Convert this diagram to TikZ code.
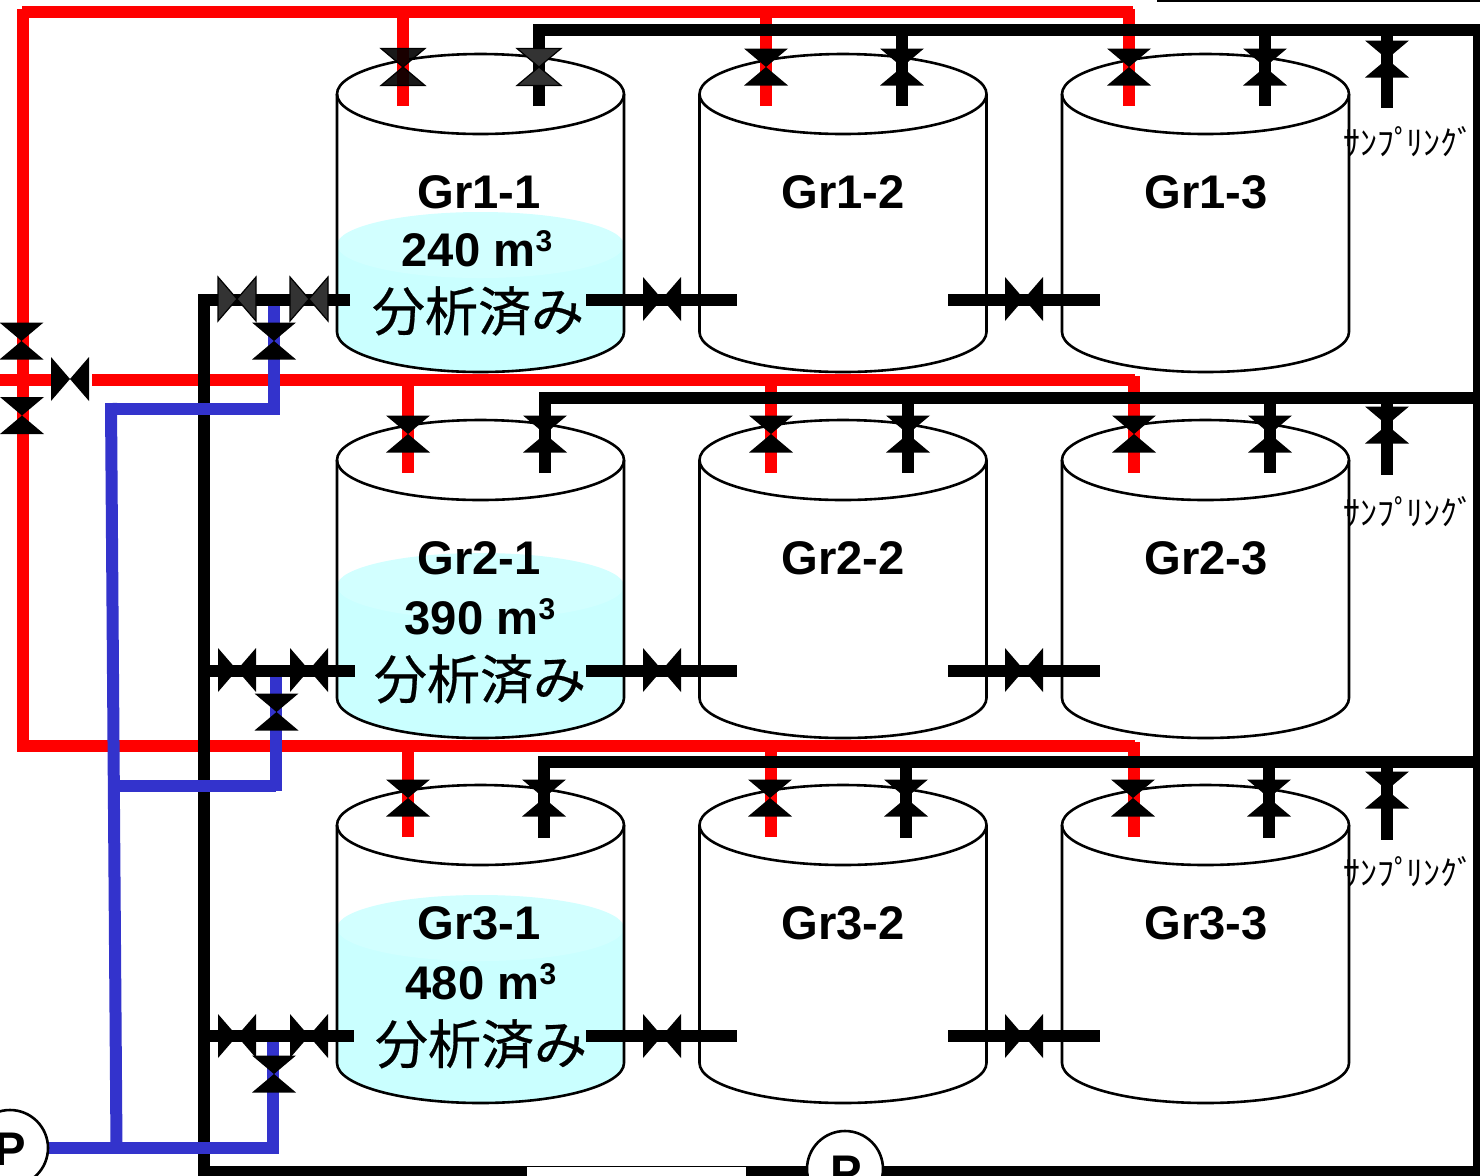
\documentclass[tikz,border=0pt]{standalone}
\usepackage{fontspec}
\setmainfont{Liberation Sans}
\newfontfamily\jpfont[FakeBold=0.5]{Noto Sans CJK JP}
\newfontfamily\jpthin{Noto Sans CJK JP}
\definecolor{pipered}{HTML}{FF0000}
\definecolor{pipeblue}{HTML}{3333CC}
\definecolor{liquid}{HTML}{CAFFFF}
\definecolor{liquidtop}{HTML}{D2FFFF}
\definecolor{valvegrey}{HTML}{333333}
\tikzset{
  tankline/.style={draw=black,line width=1.3pt},
  redpipe/.style={draw=pipered,line width=6pt},
  blackpipe/.style={draw=black,line width=6pt},
  bluepipe/.style={draw=pipeblue,line width=6pt},
  valveblack/.style={fill=black,draw=none},
  valvedark/.style={fill=valvegrey,draw=black,line width=.6pt},
  valvedarkred/.style={fill=black,fill opacity=.9,draw=black,line width=.6pt},
  tanklabel/.style={inner sep=0pt,font=\fontsize{23.6}{23.6}\selectfont\bfseries},
  jplabel/.style={inner sep=0pt,font=\fontsize{26.5}{26.5}\selectfont\jpfont},
  samplelabel/.style={inner sep=0pt,font=\fontsize{17}{17}\selectfont\jpthin},
  pumpshape/.style={circle,draw=black,line width=1.3pt,fill=white,minimum size=38pt,inner sep=0pt}
}
\newcommand{\cubed}{\raisebox{7.4pt}{\fontsize{15}{15}\selectfont 3}}
\newcommand{\samplingtext}{ｻﾝﾌﾟ\kern-2.5pt ﾘﾝｸﾞ}
% vertical-flow valve: #1 style, #2 x, #3 y
\newcommand{\valveV}[3]{\path[#1] (#2-22,#3-18.5) -- (#2+22,#3-18.5) -- (#2,#3) -- (#2+22,#3+18.5) -- (#2-22,#3+18.5) -- (#2,#3) -- cycle;}
% horizontal-flow valve
\newcommand{\valveH}[3]{\path[#1] (#2-19,#3-22) -- (#2,#3) -- (#2+19,#3-22) -- (#2+19,#3+22) -- (#2,#3) -- (#2-19,#3+22) -- cycle;}
% tank: #1 left x, #2 top centre y
\newcommand{\tankbody}[2]{%
  \path[fill=white] (#1,#2) -- (#1,#2+238) arc[start angle=180,end angle=0,x radius=143.5,y radius=40] -- (#1+287,#2) -- cycle;}
\newcommand{\tankoutline}[2]{%
  \draw[tankline] (#1,#2) -- (#1,#2+238) arc[start angle=180,end angle=0,x radius=143.5,y radius=40] -- (#1+287,#2);
  \draw[tankline] (#1+143.5,#2) ellipse[x radius=143.5,y radius=40];}
% liquid: #1 left x, #2 surface centre y, #3 bottom centre y
\newcommand{\liquidfill}[3]{%
  \path[fill=liquid] (#1,#2) -- (#1,#3) arc[start angle=180,end angle=0,x radius=143.5,y radius=41] -- (#1+287,#2) -- cycle;
  \path[fill=liquidtop] (#1+143.5,#2) ellipse[x radius=143.5,y radius=33];}
\begin{document}
\begin{tikzpicture}[x=.5pt,y=-.5pt]
\useasboundingbox (0,0) rectangle (1480,1175);
\clip (0,0) rectangle (1480,1175);
\fill[white] (0,0) rectangle (1480,1175);

% tanks
\foreach \ty in {94,460,825}{
  \foreach \tx in {337,699.5,1062}{
    \tankbody{\tx}{\ty}
  }
}
\liquidfill{337}{245}{332}
\liquidfill{337}{586}{698}
\liquidfill{337}{928}{1063}
\foreach \ty in {94,460,825}{
  \foreach \tx in {337,699.5,1062}{
    \tankoutline{\tx}{\ty}
  }
}

% red pipes
\draw[redpipe] (22,12) -- (1133,12);
\draw[redpipe] (23,9) -- (23,751);
\draw[redpipe] (1129,9) -- (1129,106);
\draw[redpipe] (403,12) -- (403,106);
\draw[redpipe] (766,12) -- (766,106);
\draw[redpipe] (0,379.5) -- (51,379.5);
\draw[redpipe] (92,379.5) -- (1135,379.5);
\draw[redpipe] (408,379) -- (408,473);
\draw[redpipe] (771,379) -- (771,473);
\draw[redpipe] (1134,376) -- (1134,473);
\draw[redpipe] (17,745.5) -- (1135,745.5);
\draw[redpipe] (408,745) -- (408,837);
\draw[redpipe] (771,745) -- (771,837);
\draw[redpipe] (1133.5,742) -- (1133.5,837);

% black pipes
\draw[blackpipe] (539,106) -- (539,30) -- (1476,30);
\draw[blackpipe] (902,30) -- (902,106);
\draw[blackpipe] (1265,30) -- (1265,106);
\draw[blackpipe] (1387,30) -- (1387,108);
\draw[blackpipe] (545,473) -- (545,398) -- (1476,398);
\draw[blackpipe] (908,398) -- (908,473);
\draw[blackpipe] (1270,398) -- (1270,473);
\draw[blackpipe] (1387,398) -- (1387,475);
\draw[blackpipe] (544,838) -- (544,762) -- (1476,762);
\draw[blackpipe] (906,762) -- (906,838);
\draw[blackpipe] (1269,762) -- (1269,838);
\draw[blackpipe] (1387,762) -- (1387,840);
\draw[draw=black,line width=3.5pt] (1476.5,24) -- (1476.5,1175);
\draw[draw=black,line width=1pt] (1157,1) -- (1480,1);
\draw[blackpipe] (350,299.5) -- (204,299.5) -- (204,1172) -- (527,1172);
\draw[blackpipe] (746,1172) -- (1480,1172);
\draw[draw=black,line width=.6pt] (527,1166.5) -- (746,1166.5);
\draw[blackpipe] (586,299.5) -- (737,299.5);
\draw[blackpipe] (948,299.5) -- (1100,299.5);

% blue pipes
\draw[bluepipe] (273.5,300) -- (273.5,415);
\draw[bluepipe] (105,409) -- (273,409);
\draw[bluepipe] (111,403) -- (116.5,1148);
\draw[bluepipe] (276,670) -- (276,791);
\draw[bluepipe] (116,786) -- (276,786);
\draw[bluepipe] (273,1030) -- (273,1148);
\draw[bluepipe] (40,1148) -- (279,1148);

% black branch lines over the blue risers
\draw[blackpipe] (204,670.5) -- (355,670.5);
\draw[blackpipe] (204,1036) -- (354,1036);
\draw[blackpipe] (240,299.5) -- (320,299.5);
\draw[blackpipe] (586,670.5) -- (737,670.5);
\draw[blackpipe] (948,670.5) -- (1100,670.5);
\draw[blackpipe] (586,1036) -- (737,1036);
\draw[blackpipe] (948,1036) -- (1100,1036);

% valves on tank tops
\valveV{valvedarkred}{403}{67}
\valveV{valvedark}{539}{67}
\foreach \vx in {766,902,1129,1265}{\valveV{valveblack}{\vx}{67}}
\valveV{valveblack}{1387}{59}
\foreach \vx in {408,545,771,908,1134,1270}{\valveV{valveblack}{\vx}{434}}
\valveV{valveblack}{1387}{425}
\foreach \vx in {408,544,770,906,1133,1269}{\valveV{valveblack}{\vx}{798}}
\valveV{valveblack}{1387}{790}

% valves on the feed lines
\valveV{valveblack}{21.5}{341}
\valveV{valveblack}{22}{415.5}
\valveH{valveblack}{70}{379}
\valveV{valveblack}{274}{341}
\valveV{valveblack}{276.5}{712}
\valveV{valveblack}{274}{1074}

% valves between tanks
\valveH{valvedark}{237}{299}
\valveH{valvedark}{309}{299}
\foreach \vy in {299,670,1036}{
  \valveH{valveblack}{662}{\vy}
  \valveH{valveblack}{1024}{\vy}
}
\valveH{valveblack}{237}{670}
\valveH{valveblack}{309}{670}
\valveH{valveblack}{237}{1036}
\valveH{valveblack}{309}{1036}

% pumps
\node[pumpshape] (pumpA) at (10,1148) {};
\node[pumpshape] (pumpB) at (845,1169) {};
\node[tanklabel] (pumpAlabel) at (10,1149) {P};
\node[tanklabel] (pumpBlabel) at (846,1172) {P};

% labels
\node[tanklabel] (g11) at (479,192) {Gr1-1};
\node[tanklabel] (g12) at (843,192) {Gr1-2};
\node[tanklabel] (g13) at (1206,192) {Gr1-3};
\node[tanklabel] (g21) at (479,558) {Gr2-1};
\node[tanklabel] (g22) at (843,558) {Gr2-2};
\node[tanklabel] (g23) at (1206,558) {Gr2-3};
\node[tanklabel] (g31) at (479,923) {Gr3-1};
\node[tanklabel] (g32) at (843,923) {Gr3-2};
\node[tanklabel] (g33) at (1206,923) {Gr3-3};
\node[tanklabel] (v1) at (477,249) {240 m\cubed};
\node[tanklabel] (v2) at (480,617) {390 m\cubed};
\node[tanklabel] (v3) at (481,982) {480 m\cubed};
\node[jplabel] (s1) at (478,311) {分析済み};
\node[jplabel] (s2) at (480,679) {分析済み};
\node[jplabel] (s3) at (481,1044) {分析済み};
\node[samplelabel] (p1) at (1409,142) {\samplingtext};
\node[samplelabel] (p2) at (1409,512) {\samplingtext};
\node[samplelabel] (p3) at (1409,872) {\samplingtext};
\end{tikzpicture}
\end{document}
